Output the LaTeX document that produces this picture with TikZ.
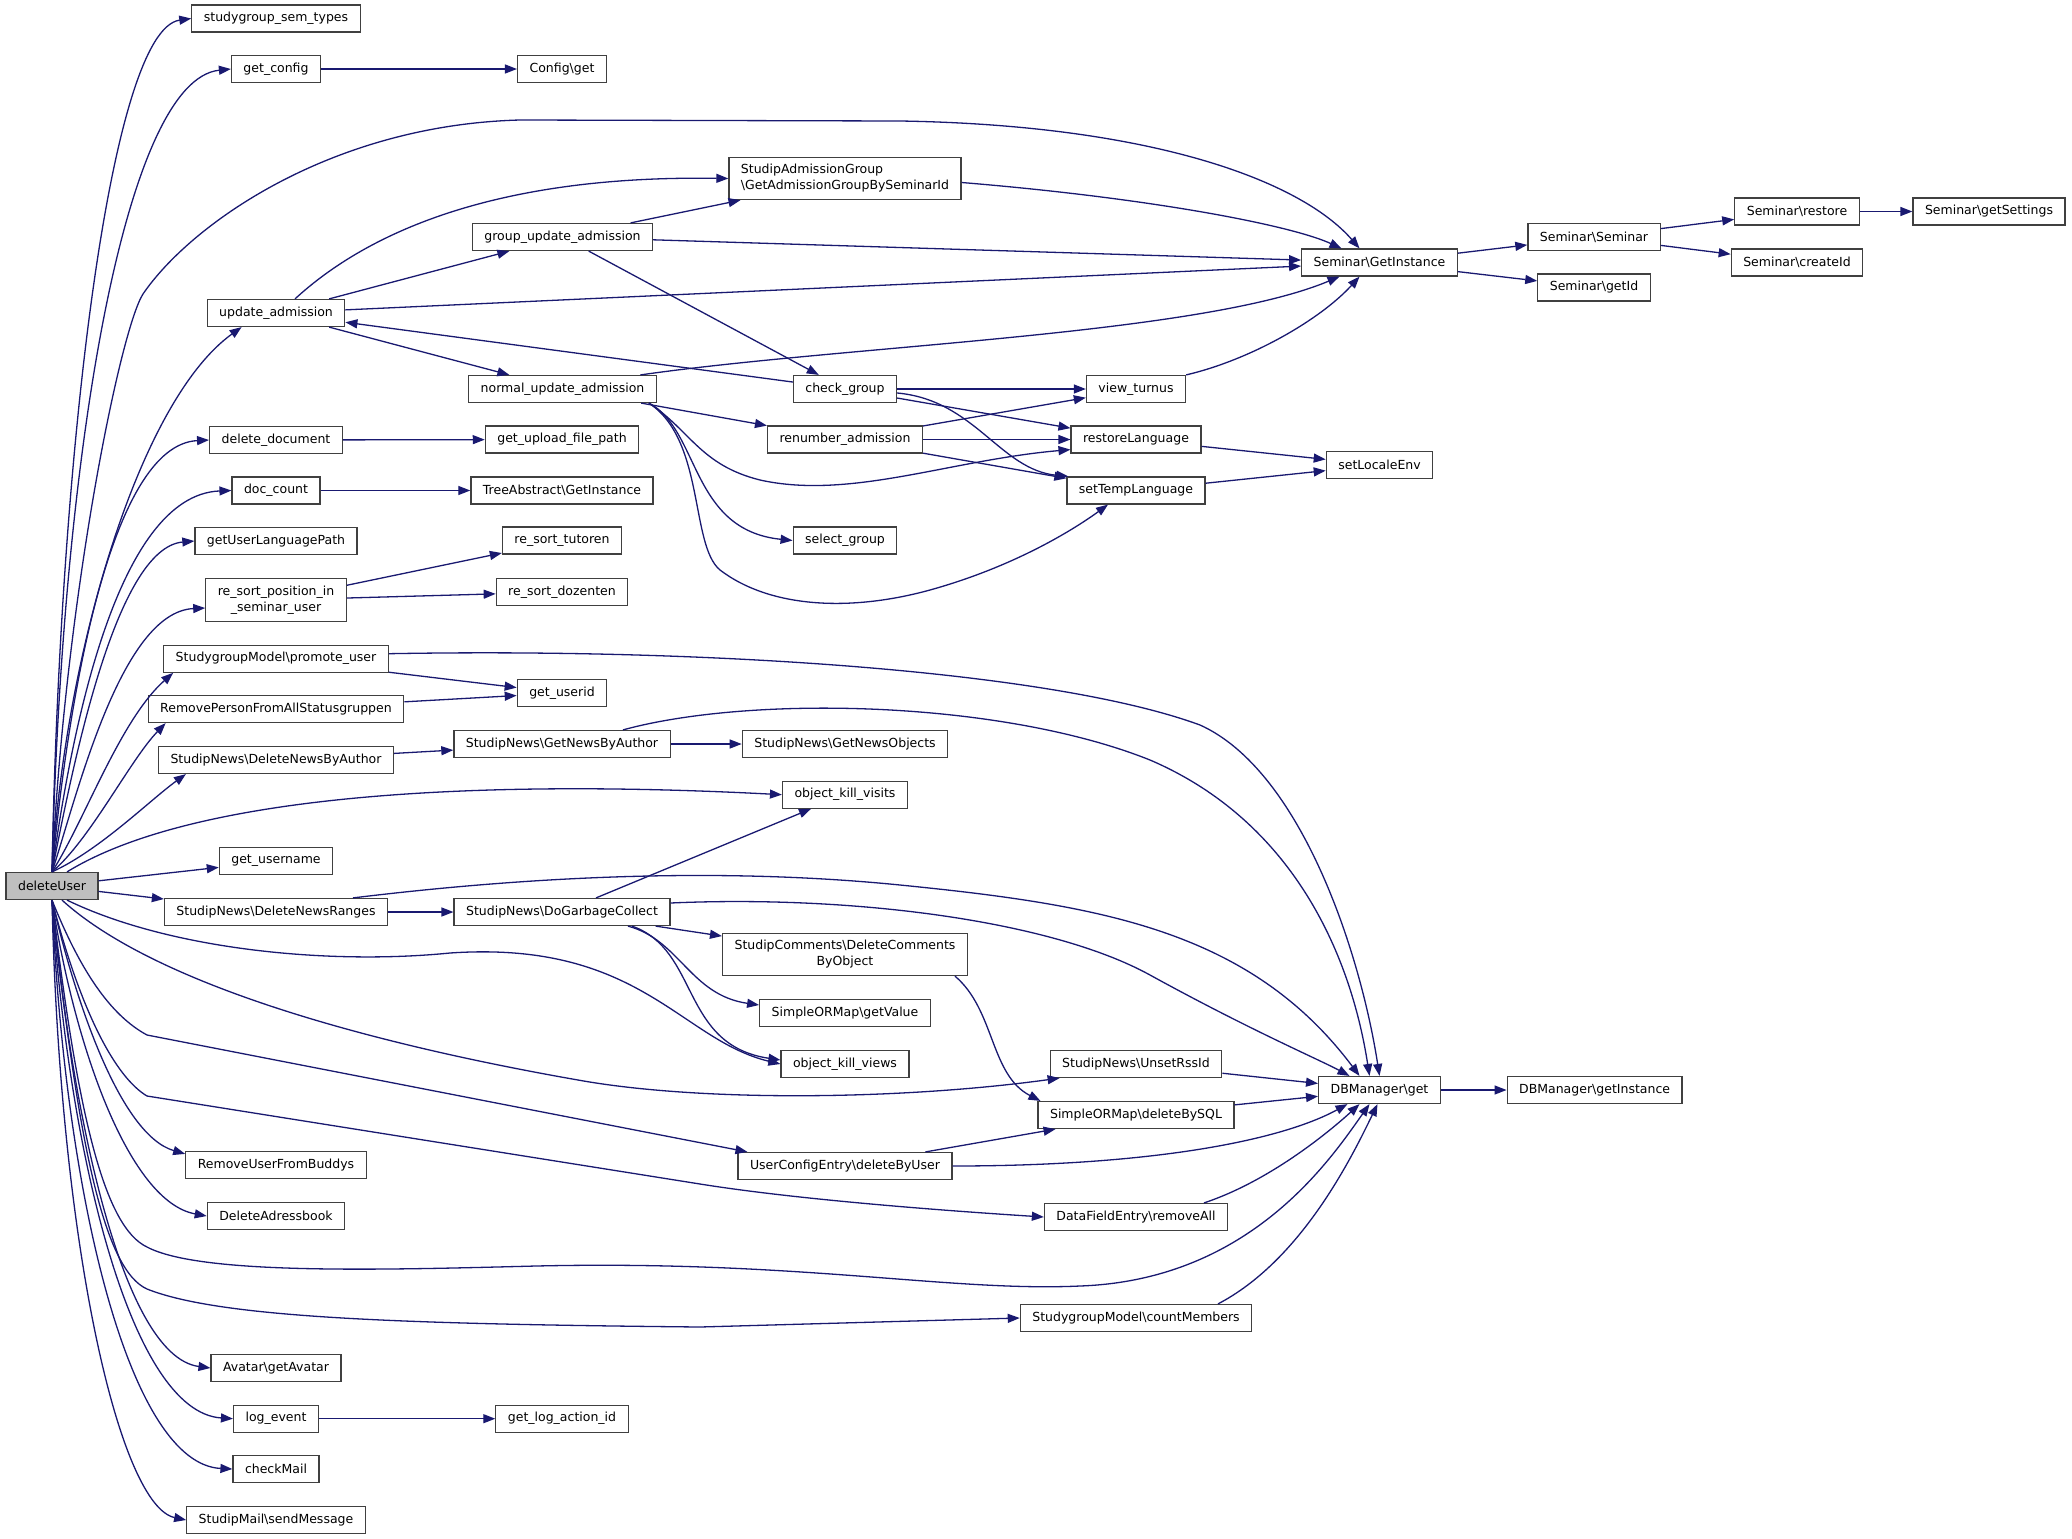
\documentclass[tikz,border=0pt]{standalone}
\usepackage{fontspec}
\setmainfont{DejaVu Sans}
\usetikzlibrary{arrows.meta,calc}
\definecolor{edgeblue}{HTML}{191970}
\definecolor{boxgray}{HTML}{404040}
\tikzstyle{root state}=[
        main,
        fill = black!25
    ]
\begin{document}
\begin{tikzpicture}[x=1pt, y=-1pt,
    main/.style = {draw=boxgray, line width=1.2pt, fill=white, rectangle, minimum height=27pt,
        inner xsep=12pt, inner ysep=7pt, font=\fontsize{12.5pt}{16pt}\selectfont},
    call/.style = {draw=edgeblue, line width=1.3pt, -{Triangle[length=12pt, width=9pt]}}]
        \useasboundingbox (0,0) rectangle (2072,1539);

        % first column
        \node[root state] (du) at (52,886) {deleteUser};
        \node[main] (sgtypes) at (276,18.5) {studygroup\_sem\_types};
        \node[main] (getcfg) at (276,69) {get\_config};
        \node[main] (updadm) at (276,313) {update\_admission};
        \node[main] (deldoc) at (276,440) {delete\_document};
        \node[main] (doccount) at (276,490.5) {doc\_count};
        \node[main] (userlang) at (276,541) {getUserLanguagePath};
        \node[main, align=center] (resortpos) at (276,600) {re\_sort\_position\_in\\\_seminar\_user};
        \node[main] (promote) at (276,658.7) {StudygroupModel\textbackslash{}promote\_user};
        \node[main] (removeperson) at (276,709) {RemovePersonFromAllStatusgruppen};
        \node[main] (delnewsauthor) at (276,760) {StudipNews\textbackslash{}DeleteNewsByAuthor};
        \node[main] (username) at (276,861) {get\_username};
        \node[main] (delnewsranges) at (276,912) {StudipNews\textbackslash{}DeleteNewsRanges};
        \node[main] (buddys) at (276,1165) {RemoveUserFromBuddys};
        \node[main] (adressbook) at (276,1216) {DeleteAdressbook};
        \node[main] (avatar) at (276,1368) {Avatar\textbackslash{}getAvatar};
        \node[main] (logevent) at (276,1418.7) {log\_event};
        \node[main] (checkmail) at (276,1469) {checkMail};
        \node[main] (sendmessage) at (276,1520) {StudipMail\textbackslash{}sendMessage};

        % second column
        \node[main] (cfgget) at (562,69) {Config\textbackslash{}get};
        \node[main] (grpupd) at (562.5,237) {group\_update\_admission};
        \node[main] (normupd) at (562.5,389) {normal\_update\_admission};
        \node[main] (uploadpath) at (562,439.5) {get\_upload\_file\_path};
        \node[main] (treeabs) at (562,490.5) {TreeAbstract\textbackslash{}GetInstance};
        \node[main] (tutoren) at (562,540.5) {re\_sort\_tutoren};
        \node[main] (dozenten) at (562,592) {re\_sort\_dozenten};
        \node[main] (userid) at (562,693) {get\_userid};
        \node[main] (newsbyauthor) at (562,744) {StudipNews\textbackslash{}GetNewsByAuthor};
        \node[main] (garbage) at (562,912) {StudipNews\textbackslash{}DoGarbageCollect};
        \node[main] (logaction) at (562,1418.7) {get\_log\_action\_id};

        % third column
        \node[main, align=left] (admgrp) at (845,178.5) {StudipAdmissionGroup\\\textbackslash{}GetAdmissionGroupBySeminarId};
        \node[main] (checkgrp) at (845,389) {check\_group};
        \node[main] (renum) at (845,439.5) {renumber\_admission};
        \node[main] (selgrp) at (845,540.5) {select\_group};
        \node[main] (newsobjects) at (845,744) {StudipNews\textbackslash{}GetNewsObjects};
        \node[main] (killvisits) at (845,794.7) {object\_kill\_visits};
        \node[main, align=center] (delcomments) at (845,954.5) {StudipComments\textbackslash{}DeleteComments\\ByObject};
        \node[main] (getvalue) at (845,1013) {SimpleORMap\textbackslash{}getValue};
        \node[main] (killviews) at (845,1064) {object\_kill\_views};
        \node[main] (userconfig) at (845,1166) {UserConfigEntry\textbackslash{}deleteByUser};

        % fourth column
        \node[main] (viewturnus) at (1136,389) {view\_turnus};
        \node[main] (restlang) at (1136,439.5) {restoreLanguage};
        \node[main] (settemp) at (1136,490.5) {setTempLanguage};
        \node[main] (unsetrss) at (1136,1064) {StudipNews\textbackslash{}UnsetRssId};
        \node[main] (deletebysql) at (1136,1115) {SimpleORMap\textbackslash{}deleteBySQL};
        \node[main] (datafield) at (1136,1217) {DataFieldEntry\textbackslash{}removeAll};
        \node[main] (countmembers) at (1136,1318) {StudygroupModel\textbackslash{}countMembers};

        % right part
        \node[main] (semgi) at (1379.5,262.5) {Seminar\textbackslash{}GetInstance};
        \node[main] (setlocale) at (1379.5,465) {setLocaleEnv};
        \node[main] (dbget) at (1379.5,1090) {DBManager\textbackslash{}get};
        \node[main] (semsem) at (1594,237) {Seminar\textbackslash{}Seminar};
        \node[main] (semgetid) at (1594,287.5) {Seminar\textbackslash{}getId};
        \node[main] (dbinst) at (1594.6,1090) {DBManager\textbackslash{}getInstance};
        \node[main] (semrest) at (1797,211.5) {Seminar\textbackslash{}restore};
        \node[main] (semcreate) at (1797,262.5) {Seminar\textbackslash{}createId};
        \node[main] (semsett) at (1989,211.5) {Seminar\textbackslash{}getSettings};

        % calls of deleteUser, upwards
        \draw[call] (du.north) .. controls (60,450) and (110,30) .. (sgtypes.west);
        \draw[call] (du.north) .. controls (62,450) and (125,80) .. (getcfg.west);
        \draw[call] (du.north) .. controls (65,600) and (120,330) .. (143,294) .. controls (190,225) and (330,125) .. (520,120) -- (900,121) .. controls (1150,125) and (1300,180) .. ($(semgi.north)+(-20,0)$);
        \draw[call] (du.north) .. controls (65,650) and (140,400) .. ($(updadm.south west)+(35,0)$);
        \draw[call] (du.north) .. controls (68,700) and (110,445) .. (deldoc.west);
        \draw[call] (du.north) .. controls (70,740) and (115,495) .. (doccount.west);
        \draw[call] (du.north) .. controls (72,770) and (115,548) .. (userlang.west);
        \draw[call] (du.north) .. controls (76,800) and (120,612) .. ($(resortpos.west)+(0,8)$);
        \draw[call] (du.north) .. controls (85,820) and (120,720) .. ($(promote.south west)+(10,0)$);
        \draw[call] (du.north) .. controls (90,840) and (130,760) .. ($(removeperson.south west)+(18,0)$);
        \draw[call] (du.north) .. controls (100,850) and (150,800) .. ($(delnewsauthor.south west)+(28,0)$);
        \draw[call] ($(du.north)+(15,0)$) .. controls (200,790) and (500,780) .. (killvisits.west);
        \draw[call] (du) -- (username);
        \draw[call] (du) -- (delnewsranges);

        % calls of deleteUser, downwards
        \draw[call] ($(du.south)+(15,0)$) .. controls (170,950) and (330,965) .. (450,953) .. controls (640,940) and (680,1040) .. (killviews.west);
        \draw[call] ($(du.south)+(10,0)$) .. controls (150,980) and (350,1040) .. (578,1080) .. controls (700,1102) and (900,1100) .. ($(unsetrss.south west)+(10,0)$);
        \draw[call] (du.south) .. controls (80,970) and (110,1015) .. (147,1035) -- ($(userconfig.north west)+(10,0)$);
        \draw[call] (du.south) .. controls (80,1010) and (115,1077) .. (147,1096) -- (700,1184) .. controls (800,1200) and (950,1211) .. (datafield.west);
        \draw[call] (du.south) .. controls (75,1000) and (120,1135) .. ($(buddys.north west)+(0,3)$);
        \draw[call] (du.south) .. controls (75,1050) and (130,1202) .. (adressbook.west);
        \draw[call] (du.south) .. controls (78,1120) and (105,1227) .. (147,1247) .. controls (200,1275) and (380,1270) .. (536,1266) .. controls (800,1260) and (950,1292) .. (1080,1286) .. controls (1250,1280) and (1330,1160) .. ($(dbget.south)+(-10,0)$);
        \draw[call] (du.south) .. controls (78,1150) and (105,1270) .. (147,1289) .. controls (220,1318) and (400,1324) .. (700,1327) -- (countmembers.west);
        \draw[call] (du.south) .. controls (70,1100) and (120,1356) .. (avatar.west);
        \draw[call] (du.south) .. controls (68,1150) and (130,1412) .. (logevent.west);
        \draw[call] (du.south) .. controls (65,1200) and (130,1464) .. (checkmail.west);
        \draw[call] (du.south) .. controls (60,1250) and (120,1506) .. (sendmessage.west);

        % admission part
        \draw[call] (getcfg) -- (cfgget);
        \draw[call] ($(updadm.north)+(19,0)$) .. controls (370,230) and (500,175) .. (admgrp.west);
        \draw[call] (updadm) -- (grpupd);
        \draw[call] (updadm) -- (semgi);
        \draw[call] (updadm) -- (normupd);
        \draw[call] (checkgrp) -- (updadm);
        \draw[call] (grpupd) -- (admgrp);
        \draw[call] (grpupd) -- (semgi);
        \draw[call] (grpupd) -- (checkgrp);
        \draw[call] ($(admgrp.east)+(0,4)$) .. controls (1150,198) and (1290,225) .. ($(semgi.north)+(-38,0)$);
        \draw[call] ($(normupd.north)+(78,0)$) .. controls (850,345) and (1200,335) .. ($(semgi.south)+(-40,0)$);
        \draw[call] (viewturnus.north east) .. controls (1250,360) and (1320,320) .. ($(semgi.south)+(-20,0)$);
        \draw[call] (normupd) -- (renum);
        \draw[call] ($(normupd.south east)+(-8,0)$) .. controls (690,430) and (700,465) .. (760,480) .. controls (850,500) and (950,460) .. ($(restlang.south west)+(0,-4)$);
        \draw[call] ($(normupd.south east)+(-8,0)$) .. controls (700,430) and (690,530) .. (selgrp.west);
        \draw[call] ($(normupd.south east)+(-8,0)$) .. controls (705,440) and (690,545) .. (720,570) .. controls (770,608) and (850,612) .. (930,590) .. controls (1020,565) and (1080,525) .. ($(settemp.south)+(-28,0)$);
        \draw[call] (checkgrp) -- (viewturnus);
        \draw[call] (checkgrp) -- (restlang);
        \draw[call] ($(checkgrp.east)+(0,4)$) .. controls (975,400) and (1000,470) .. ($(settemp.north west)+(2,0)$);
        \draw[call] (renum) -- (viewturnus);
        \draw[call] (renum) -- (restlang);
        \draw[call] (renum) -- (settemp);
        \draw[call] (restlang) -- (setlocale);
        \draw[call] (settemp) -- (setlocale);

        % Seminar
        \draw[call] (semgi) -- (semsem);
        \draw[call] (semgi) -- (semgetid);
        \draw[call] (semsem) -- (semrest);
        \draw[call] (semsem) -- (semcreate);
        \draw[call] (semrest) -- (semsett);

        % documents and users
        \draw[call] (deldoc) -- (uploadpath);
        \draw[call] (doccount) -- (treeabs);
        \draw[call] (resortpos) -- (tutoren);
        \draw[call] (resortpos) -- (dozenten);
        \draw[call] (promote) -- (userid);
        \draw[call] (removeperson) -- (userid);
        \draw[call] (logevent) -- (logaction);

        % news and database
        \draw[call] ($(promote.east)+(0,-5)$) .. controls (700,648) and (1050,670) .. (1200,725) .. controls (1300,770) and (1360,950) .. (dbget.north);
        \draw[call] (delnewsauthor) -- (newsbyauthor);
        \draw[call] (newsbyauthor) -- (newsobjects);
        \draw[call] ($(newsbyauthor.north)+(61,0)$) .. controls (750,695) and (1000,700) .. (1150,760) .. controls (1290,820) and (1350,950) .. ($(dbget.north)+(-10,0)$);
        \draw[call] (delnewsranges) -- (garbage);
        \draw[call] ($(delnewsranges.north)+(77,0)$) .. controls (500,880) and (700,865) .. (900,885) .. controls (1100,905) and (1250,930) .. ($(dbget.north)+(-20,0)$);
        \draw[call] (garbage) -- (killvisits);
        \draw[call] (garbage) -- (delcomments);
        \draw[call] ($(garbage.east)+(0,-9)$) .. controls (850,895) and (1050,920) .. (1150,975) .. controls (1250,1030) and (1320,1060) .. ($(dbget.north)+(-30,0)$);
        \draw[call] ($(garbage.south)+(66,0)$) .. controls (680,940) and (690,995) .. ($(getvalue.west)+(0,-8)$);
        \draw[call] ($(garbage.south)+(70,0)$) .. controls (700,950) and (680,1045) .. ($(killviews.west)+(0,-4)$);
        \draw[call] ($(delcomments.south)+(110,0)$) .. controls (995,1010) and (990,1075) .. ($(deletebysql.north west)+(3,0)$);
        \draw[call] (unsetrss) -- (dbget);
        \draw[call] (deletebysql) -- (dbget);
        \draw[call] (userconfig) -- (deletebysql);
        \draw[call] (userconfig.east) .. controls (1150,1166) and (1280,1141) .. ($(dbget.south)+(-32,0)$);
        \draw[call] ($(datafield.north)+(68,0)$) .. controls (1270,1181) and (1330,1131) .. ($(dbget.south)+(-20,0)$);
        \draw[call] ($(countmembers.north)+(82,0)$) .. controls (1300,1261) and (1350,1161) .. ($(dbget.south)+(-2,0)$);
        \draw[call] (dbget) -- (dbinst);

    \end{tikzpicture}
\end{document}
